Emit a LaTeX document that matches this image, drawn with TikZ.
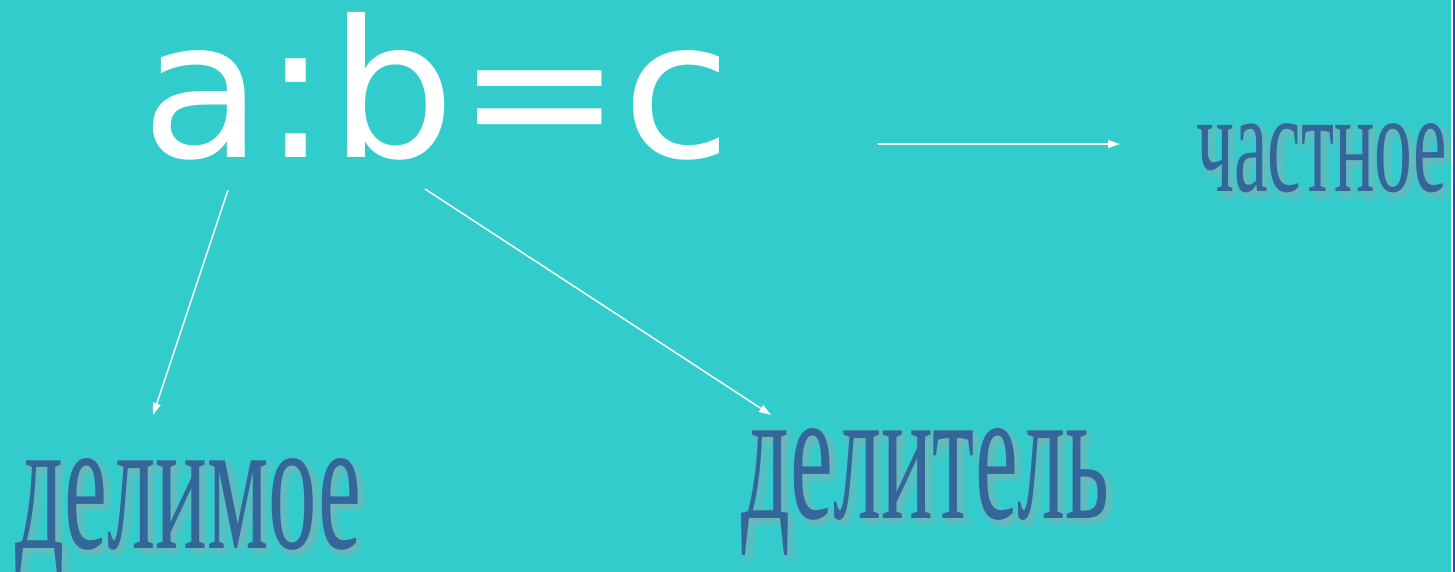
\documentclass[tikz,border=0pt]{standalone}
\usepackage{fontspec}
\usetikzlibrary{arrows.meta}
\newfontfamily\dejavu{DejaVu Sans}
\newfontfamily\lserif{Liberation Serif}
\definecolor{bgteal}{HTML}{33CCCC}
\definecolor{wordblue}{HTML}{356699}
\definecolor{shadowgray}{HTML}{A8A8AC}
\definecolor{edgeblue}{HTML}{1A4FB0}
\tikzset{
  conn/.style={draw=white, line width=1.5pt, -{Triangle[length=12pt,width=8pt]}},
  word/.style={inner sep=0pt, anchor=base west, text=wordblue},
  wshadow/.style={inner sep=0pt, anchor=base west, text=shadowgray, opacity=0.1},
}
\newcommand{\wordtext}[3]{\scalebox{#2}[1]{\lserif\fontsize{#1}{#1}\selectfont #3}}
\begin{document}
\begin{tikzpicture}[x=1pt,y=-1pt]
\useasboundingbox (0,0) rectangle (1455,572);
\fill[bgteal] (0,0) rectangle (1455,572);
\draw[white, line width=1.8pt] (1451.8,0) -- (1451.8,572);
\draw[edgeblue, line width=2pt] (1454,0) -- (1454,572);

% main formula
\node[inner sep=0pt, anchor=base west, text=white] (formula) at (141,158)
  {\scalebox{1.04}[1]{\dejavu\fontsize{191}{191}\selectfont a:b=c}};

% soft shadows
\foreach \dx in {0,4,8} {
  \foreach \dy in {0,4,8} {
    \node[wshadow] at (1196+\dx,192+\dy) {\wordtext{144}{0.525}{частное}};
    \node[wshadow] at (15+\dx,548+\dy) {\wordtext{191}{0.507}{делимое}};
    \node[wshadow] at (741+\dx,518+\dy) {\wordtext{191}{0.505}{делитель}};
  }
}
% words
\node[word] (quot) at (1196,192) {\wordtext{144}{0.525}{частное}};
\node[word] (divd) at (15,548) {\wordtext{191}{0.507}{делимое}};
\node[word] (divs) at (741,518) {\wordtext{191}{0.505}{делитель}};

% connector endpoints
\coordinate (aS) at (228,190);
\coordinate (aE) at (153,415);
\coordinate (bS) at (425,189);
\coordinate (bE) at (771,415);
\coordinate (cS) at (878,144);
\coordinate (cE) at (1120,144);
\draw[conn] (aS) -- (aE);
\draw[conn] (bS) -- (bE);
\draw[conn] (cS) -- (cE);
\end{tikzpicture}
\end{document}
